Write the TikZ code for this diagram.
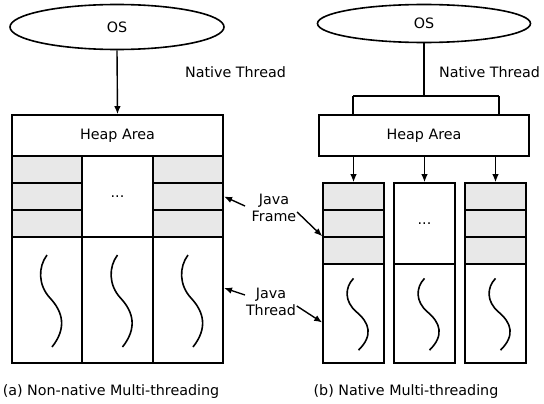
\documentclass[tikz,border=0pt]{standalone}
\usepackage{fontspec}
\setmainfont{DejaVu Sans}
\usetikzlibrary{shapes.geometric,arrows.meta,positioning,calc}
\definecolor{framegray}{RGB}{232,232,232}

\begin{document}
\begin{tikzpicture}[
  x=1pt, y=-1pt,
  font=\fontsize{14.3}{16}\selectfont,
  line width=1.6pt,
  osnode/.style={ellipse, draw, inner sep=0pt},
  heap/.style={rectangle, draw, inner sep=0pt, minimum width=211pt, minimum height=41pt},
  frame/.style={rectangle, draw, fill=framegray, inner sep=0pt, minimum height=27pt},
  blank/.style={rectangle, draw, inner sep=0pt},
  arrow/.style={-{Latex[length=8pt,width=6.5pt]}, line width=1.4pt},
  label/.style={align=center, inner sep=0pt, font=\fontsize{14.3}{17}\selectfont}
]
\useasboundingbox (0,0) rectangle (544,404);

% (a) Non-native
\node[osnode, minimum width=214pt, minimum height=45pt] (osA) at (117,27) {OS};
\node[heap] (heapA) at (117.5,135.5) {Heap Area};
\foreach \c/\x in {1/47, 3/188} {
  \foreach \r/\y in {1/169.5, 2/196.5, 3/223.5}
    \node[frame, minimum width=70.5pt] (fA\c\r) at (\x,\y) {};
}
\node[blank, minimum width=70.5pt, minimum height=81pt] (dotsA) at (117.5,196.5) {...};
\foreach \c/\x in {1/47, 2/117.5, 3/188}
  \node[blank, minimum width=70.5pt, minimum height=126pt] (thA\c) at (\x,300) {};
\draw[arrow] (osA.south) -- (heapA.north);
\node (ntA) at (235.5,72) {Native Thread};

% (b) Native
\node[osnode, minimum width=213pt, minimum height=38pt] (osB) at (424,23.5) {OS};
\node[heap, minimum width=210pt] (heapB) at (424,135.5) {Heap Area};
\foreach \c/\x in {1/353.5, 3/495.5} {
  \foreach \r/\y in {1/196.5, 2/223.5, 3/250.5}
    \node[frame, minimum width=61pt] (fB\c\r) at (\x,\y) {};
}
\node[blank, minimum width=61pt, minimum height=81pt] (dotsB) at (424.5,223.5) {...};
\foreach \c/\x in {1/353.5, 2/424.5, 3/495.5}
  \node[blank, minimum width=61pt, minimum height=99pt] (thB\c) at (\x,313.5) {};
\coordinate (brB) at (424,96);
\coordinate (brL) at (353,96);
\coordinate (brR) at (499,96);
\draw (osB.south) -- (brB);
\draw (brL) -- (brR);
\draw (brL) -- (brL |- heapB.north);
\draw (brR) -- (brR |- heapB.north);
\draw[arrow] (heapB.south -| fB11.north) -- (fB11.north);
\draw[arrow] (heapB.south -| dotsB.north) -- (dotsB.north);
\draw[arrow] (heapB.south -| fB31.north) -- (fB31.north);
\node (ntB) at (489.5,72) {Native Thread};

% squiggles
\foreach \n/\s in {thA1/1, thA2/1, thA3/1, thB1/0.78, thB2/0.78, thB3/0.78} {
  \begin{scope}[shift={(\n.center)}, yscale=\s]
    \draw (0,-45) .. controls (-9,-33) and (-9,-15) .. (3,-2)
      .. controls (16,12) and (20,28) .. (5,47);
  \end{scope}
}

% middle labels
\node[label] (jframe) at (274,208) {Java\\Frame};
\node[label] (jthread) at (271,302) {Java\\Thread};
\draw[arrow] (245,206) -- (fA32.east);
\draw[arrow] (jframe.east) ++(0,4) -- (fB13.north west);
\draw[arrow] (245,295) -- ($(thA3.east)+(0,-12)$);
\draw[arrow] (jthread.east) ++(0,4) -- ($(thB1.west)+(0,9)$);

% captions
\node (capA) at (111,392) {(a) Non-native Multi-threading};
\node (capB) at (406,392) {(b) Native Multi-threading};
\end{tikzpicture}
\end{document}
